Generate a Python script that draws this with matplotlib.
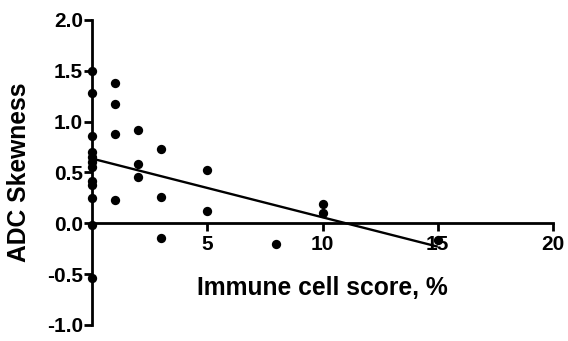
import numpy as np
import matplotlib
matplotlib.use("Agg")
import matplotlib.pyplot as plt

plt.rcParams['font.family'] = ['Liberation Sans', 'DejaVu Sans']

# Data
immune_score = [0, 0, 0, 0, 0, 0, 0, 0, 0, 0, 0, 0,
                1, 1, 1, 1,
                2, 2, 2,
                3, 3, 3,
                5, 5,
                8,
                10, 10,
                15]
adc_skewness = [1.50, 1.28, 0.86, 0.70, 0.65, 0.60, 0.55, 0.42, 0.38, 0.25, -0.02, -0.54,
                1.38, 1.17, 0.88, 0.23,
                0.92, 0.58, 0.46,
                0.73, 0.26, -0.14,
                0.52, 0.12,
                -0.20,
                0.19, 0.10,
                -0.16]
x_ticks = [5, 10, 15, 20]
y_ticks = [-1.0, -0.5, 0.0, 0.5, 1.0, 1.5, 2.0]

fig = plt.figure(figsize=(5.68, 3.41), dpi=100)
ax = fig.add_axes([0.162, 0.047, 0.8116, 0.8944])

x = np.array(immune_score, dtype=float)
y = np.array(adc_skewness, dtype=float)
slope, intercept = np.polyfit(x, y, 1)
xl = np.array([0, 15])
ax.plot(xl, intercept + slope * xl, color='black', lw=1.7, solid_capstyle='butt', zorder=2)
ax.scatter(x, y, s=45, color='black', zorder=3, clip_on=False, linewidths=0)

ax.set_xlim(0, 20)
ax.set_ylim(-1.0, 2.0)
ax.spines['top'].set_visible(False)
ax.spines['right'].set_visible(False)
ax.spines['bottom'].set_position(('data', 0))
for s in ['left', 'bottom']:
    ax.spines[s].set_linewidth(2.0)

ax.set_xticks(x_ticks)
ax.set_yticks(y_ticks)
ax.set_yticklabels([f"{v:.1f}" for v in y_ticks])
ax.tick_params(axis='both', direction='out', width=2.0, length=5.5, labelsize=15)
ax.tick_params(axis='y', pad=1)
ax.tick_params(axis='x', pad=3)
for lab in ax.get_yticklabels() + ax.get_xticklabels():
    lab.set_fontweight('bold')

ax.set_xlabel("Immune cell score, %", fontsize=17.7, fontweight='bold')
ax.xaxis.set_label_coords(0.5, 0.162)
ax.set_ylabel("ADC Skewness", fontsize=17.7, fontweight='bold')
ax.yaxis.set_label_coords(-0.133, 0.5)

fig.savefig("out.png", dpi=100)
